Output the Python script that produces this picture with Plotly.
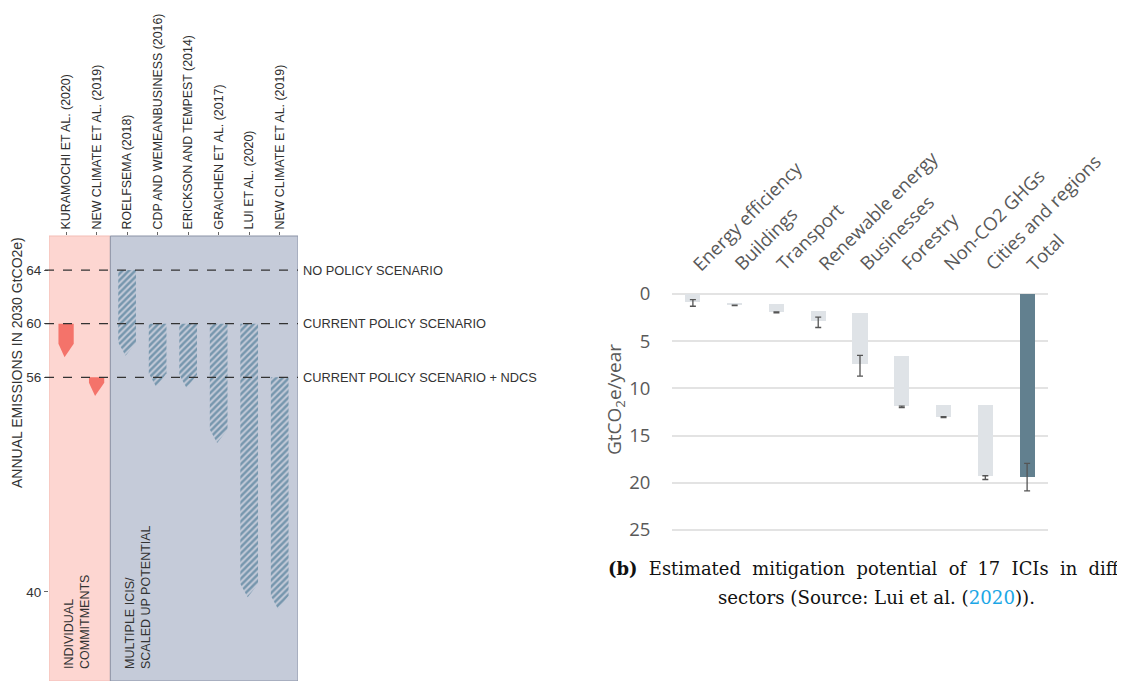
import plotly.graph_objects as go

# Figure is placed 8px from the page's top-left corner (default body margin)
OFF = 8
W, H = 1117, 673

# ---------------- Left panel data ----------------
left_cats = ["KURAMOCHI ET AL. (2020)", "NEW CLIMATE ET AL. (2019)", "ROELFSEMA (2018)",
             "CDP AND WEMEANBUSINESS (2016)", "ERICKSON AND TEMPEST (2014)",
             "GRAICHEN ET AL. (2017)", "LUI ET AL. (2020)", "NEW CLIMATE ET AL. (2019)"]
left_top = [60, 56, 64, 60, 60, 60, 60, 56]
left_bottom = [57.5, 54.6, 57.6, 55.3, 55.2, 51.1, 39.6, 38.7]
left_kind = ["individual", "individual", "multiple", "multiple", "multiple", "multiple", "multiple", "multiple"]
left_yticks = [64, 60, 56, 40]
scenario_levels = [64, 60, 56]
scenario_labels = ["NO POLICY SCENARIO", "CURRENT POLICY SCENARIO", "CURRENT POLICY SCENARIO + NDCS"]

# ---------------- Right panel data ----------------
sectors = ["Energy efficiency", "Buildings", "Transport", "Renewable energy", "Businesses",
           "Forestry", "Non-CO2 GHGs", "Cities and regions", "Total"]
bar_start = [0.0, 1.0, 1.1, 1.85, 2.05, 6.6, 11.8, 11.8, 0.0]
bar_end = [0.85, 1.2, 1.9, 2.85, 7.45, 11.9, 13.0, 19.3, 19.35]
err_center = [0.95, 1.2, 1.95, 3.0, 7.6, 11.95, 13.05, 19.45, 19.4]
err_half = [0.35, 0.03, 0.05, 0.55, 1.1, 0.08, 0.05, 0.2, 1.45]
right_yticks = [0, 5, 10, 15, 20, 25]


def px_x(p):
    return (p - OFF) / W


def px_y(p):
    return 1 - (p - OFF) / H


fig = go.Figure()

# Left panel polygons
for i, (top, bot, kind) in enumerate(zip(left_top, left_bottom, left_kind)):
    if kind == "individual":
        w = 0.25
        taper = min(1.0, (top - bot) * 0.72)
    else:
        w = 0.29
        taper = 1.0
    xs = [i - w, i + w, i + w, i - 0.05, i - w, i - w]
    ys = [top, top, bot + taper, bot, bot + taper, top]
    if kind == "individual":
        fig.add_trace(go.Scatter(x=xs, y=ys, fill="toself", mode="lines",
                                 line=dict(width=0, color="#f4736a"),
                                 fillcolor="#f4736a", xaxis="x", yaxis="y",
                                 showlegend=False, hoverinfo="skip"))
    else:
        fig.add_trace(go.Scatter(x=xs, y=ys, fill="toself", mode="lines",
                                 line=dict(width=0, color="rgba(0,0,0,0)"),
                                 fillcolor="rgba(0,0,0,0)",
                                 fillpattern=dict(shape="/", fgcolor="#276282", bgcolor="rgba(0,0,0,0)",
                                                  size=4.5, solidity=0.55),
                                 xaxis="x", yaxis="y", showlegend=False, hoverinfo="skip"))

# Right panel bars
bar_colors = ["#dfe3e7"] * (len(sectors) - 1) + ["#62808f"]
fig.add_trace(go.Bar(x=sectors, y=[e - s for s, e in zip(bar_start, bar_end)], base=bar_start,
                     marker=dict(color=bar_colors, line=dict(width=0)), width=0.36,
                     xaxis="x2", yaxis="y2", showlegend=False, hoverinfo="skip"))
fig.add_trace(go.Scatter(x=sectors, y=err_center, mode="markers",
                         marker=dict(size=1, color="rgba(0,0,0,0)"),
                         error_y=dict(type="data", array=err_half, color="#555555",
                                      thickness=1.3, width=3),
                         xaxis="x2", yaxis="y2", showlegend=False, hoverinfo="skip"))

shapes = []
shapes.append(dict(type="rect", xref="x", yref="y domain", x0=-0.56, x1=1.45, y0=0, y1=1,
                   fillcolor="#fdd6d1", line=dict(width=1, color="#f3bdb6"), layer="below"))
shapes.append(dict(type="rect", xref="x", yref="y domain", x0=1.45, x1=7.6, y0=0, y1=1,
                   fillcolor="#c5cbd9", line=dict(width=1, color="#8b93a6"), layer="below"))
for lv in scenario_levels:
    shapes.append(dict(type="line", xref="paper", yref="y", x0=px_x(45), x1=px_x(298), y0=lv, y1=lv,
                       line=dict(color="#333333", width=1.2, dash="dash"), layer="above"))

annotations = []
for lv, lab in zip(scenario_levels, scenario_labels):
    annotations.append(dict(xref="paper", yref="y", x=px_x(301), y=lv, text=lab, showarrow=False,
                            xanchor="left", yanchor="middle",
                            font=dict(family="Liberation Sans", size=12.8, color="#333333")))
annotations.append(dict(xref="paper", yref="paper", x=px_x(17), y=px_y(363),
                        text="ANNUAL EMISSIONS IN 2030 GtCO2e)", textangle=-90, showarrow=False,
                        xanchor="center", yanchor="middle",
                        font=dict(family="Liberation Sans", size=14, color="#333333")))
annotations.append(dict(xref="paper", yref="paper", x=px_x(77), y=px_y(671),
                        text="INDIVIDUAL<br>COMMITMENTS", textangle=-90, showarrow=False,
                        xanchor="center", yanchor="bottom", align="left",
                        font=dict(family="Liberation Sans", size=12.5, color="#333333")))
annotations.append(dict(xref="paper", yref="paper", x=px_x(138), y=px_y(671),
                        text="MULTIPLE ICIS/<br>SCALED UP POTENTIAL", textangle=-90, showarrow=False,
                        xanchor="center", yanchor="bottom", align="left",
                        font=dict(family="Liberation Sans", size=12.5, color="#333333")))
# Right panel category labels (rotated, starting at each category)
for s in sectors:
    annotations.append(dict(xref="x2", yref="paper", x=s, y=px_y(278), text=s, textangle=-45,
                            showarrow=False, xanchor="left", yanchor="bottom", xshift=-9,
                            font=dict(family="Open Sans", size=18.5, color="#595959")))
# Right panel y title
annotations.append(dict(xref="paper", yref="paper", x=px_x(615), y=px_y(400),
                        text="GtCO<sub>2</sub>e/year", textangle=-90, showarrow=False,
                        xanchor="center", yanchor="middle",
                        font=dict(family="Open Sans", size=19, color="#595959")))
# Caption
cap1_words = ["<b>(b)</b>", "Estimated", "mitigation", "potential", "of", "17", "ICIs", "in", "different"]
annotations.append(dict(xref="paper", yref="paper", x=px_x(606), y=px_y(568),
                        text="&nbsp; ".join(cap1_words),
                        showarrow=False, xanchor="left", yanchor="middle",
                        font=dict(family="DejaVu Serif", size=17.9, color="#111111")))
annotations.append(dict(xref="paper", yref="paper", x=px_x(716), y=px_y(597),
                        text="sectors (Source: Lui et al. (<span style='color:#1ca7e6'>2020</span>)).",
                        showarrow=False, xanchor="left", yanchor="middle",
                        font=dict(family="DejaVu Serif", size=18.2, color="#111111")))

fig.update_layout(
    width=W, height=H, margin=dict(l=0, r=0, t=0, b=0),
    paper_bgcolor="white", plot_bgcolor="rgba(0,0,0,0)",
    shapes=shapes, annotations=annotations, bargap=0,
    xaxis=dict(domain=[px_x(49), px_x(298)], range=[-0.56, 7.6], side="top",
               tickvals=list(range(len(left_cats))), ticktext=left_cats, tickangle=-90,
               ticks="outside", ticklen=3, tickcolor="#666666", showgrid=False, zeroline=False,
               showline=False, tickfont=dict(family="Liberation Sans", size=12.4, color="#2e2e2e"),
               anchor="y", automargin=False),
    yaxis=dict(domain=[0, px_y(236)], range=[33.35, 66.54], tickvals=left_yticks,
               ticks="outside", ticklen=4, tickcolor="#666666", showgrid=False, zeroline=False,
               showline=False, tickfont=dict(family="Liberation Sans", size=13.5, color="#333333"),
               anchor="x", automargin=False),
    xaxis2=dict(domain=[px_x(672), px_x(1048)], range=[-0.5, 8.5], side="top", type="category",
                showgrid=False, zeroline=False, showline=False, ticks="", showticklabels=False,
                anchor="y2", automargin=False),
    yaxis2=dict(domain=[px_y(531.9), px_y(292.1)], range=[25.2, -0.2], tickvals=right_yticks,
                showgrid=True, gridcolor="#e3e3e3", gridwidth=1.5, zeroline=False, showline=False,
                ticks="outside", ticklen=17, tickcolor="rgba(0,0,0,0)",
                tickfont=dict(family="Open Sans", size=18.5, color="#595959"), anchor="x2",
                automargin=False),
)

fig.write_html("out.html")
